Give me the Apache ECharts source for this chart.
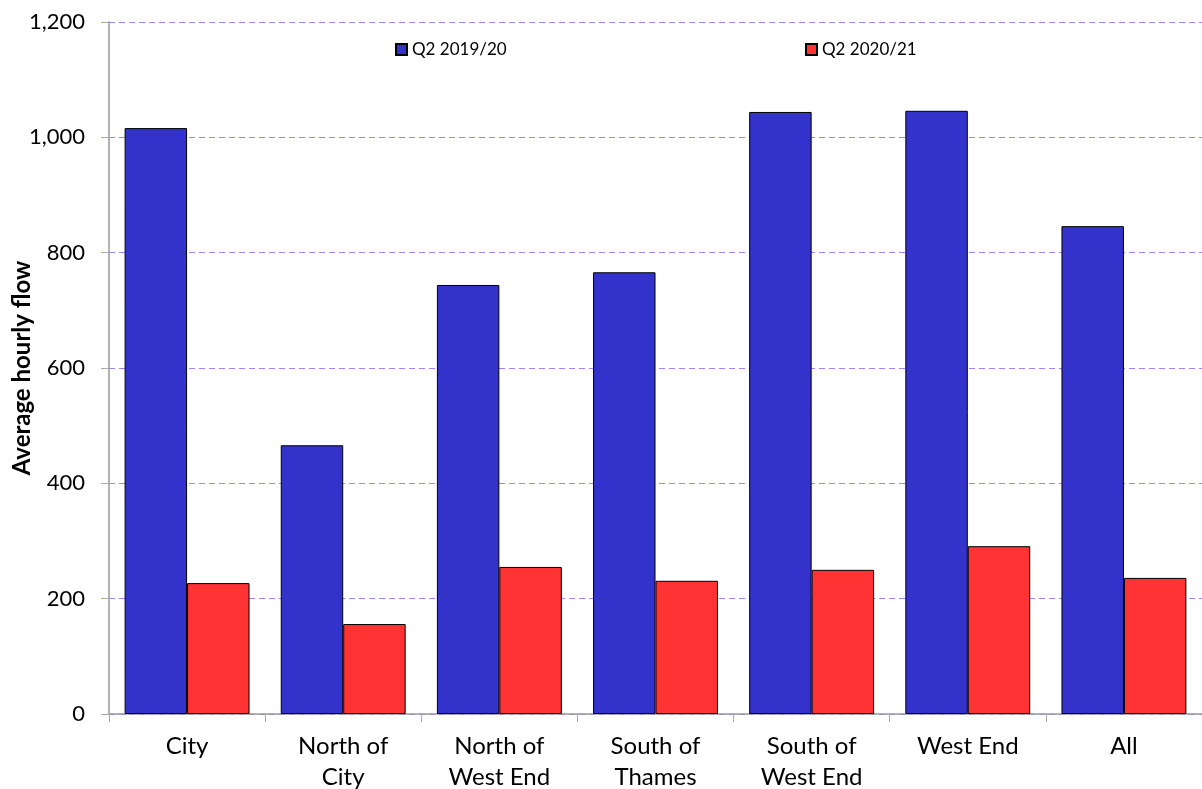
<!DOCTYPE html>
<html><head><meta charset="utf-8">
<script src="https://cdn.jsdelivr.net/npm/echarts@6/dist/echarts.min.js"></script>
<style>html,body{margin:0;padding:0;background:#fff;overflow:hidden}#c{width:1202px;height:789px}</style>
</head><body><div id="c"></div>
<script>
const categories = ['City', 'North of\nCity', 'North of\nWest End', 'South of\nThames', 'South of\nWest End', 'West End', 'All'];
const seriesNames = ['Q2 2019/20', 'Q2 2020/21'];
const q2_2019 = [1016, 466, 744, 766, 1044, 1046, 846];
const q2_2020 = [227, 156, 255, 231, 250, 291, 236];
const yTicks = [0, 200, 400, 600, 800, 1000, 1200];

const font = 'Lato, "Open Sans", sans-serif';
const chart = echarts.init(document.getElementById('c'));
chart.setOption({
  animation: false,
  backgroundColor: '#fff',
  grid: {left: 109, right: 0, top: 22, bottom: 75, containLabel: false, outerBoundsMode: 'none'},
  legend: [
    {data: [seriesNames[0]], icon: 'rect', left: 390, top: 36, itemWidth: 11, itemHeight: 11, itemGap: 4, textStyle: {fontFamily: font, fontSize: 17, color: '#000'}},
    {data: [seriesNames[1]], icon: 'rect', left: 800, top: 36, itemWidth: 11, itemHeight: 11, itemGap: 4, textStyle: {fontFamily: font, fontSize: 17, color: '#000'}}
  ],
  xAxis: {
    type: 'category', data: categories,
    axisLine: {lineStyle: {color: '#999', width: 1.5}},
    axisTick: {show: true, length: 8, lineStyle: {color: '#aaa'}},
    axisLabel: {fontFamily: font, fontSize: 24, color: '#000', margin: 17, lineHeight: 31}
  },
  yAxis: {
    type: 'value', min: 0, max: 1200, interval: 200,
    name: 'Average hourly flow', nameLocation: 'middle', nameGap: 75, nameMoveOverlap: false,
    nameTextStyle: {fontFamily: font, fontSize: 24, fontWeight: 'bold', color: '#000'},
    axisLine: {show: true, lineStyle: {color: '#999', width: 1.5}},
    axisTick: {show: true, length: 8, lineStyle: {color: '#aaa'}},
    axisLabel: {fontFamily: font, fontSize: 22, color: '#000', margin: 24,
      formatter: v => yTicks.includes(v) ? v.toLocaleString('en-GB') : ''},
    splitLine: {show: true, lineStyle: {color: ['#a680ff'], type: [6, 4], width: 1}}
  },
  series: [
    {name: seriesNames[0], type: 'bar', data: q2_2019, barGap: '0%', barCategoryGap: '20%',
      itemStyle: {color: '#3333cc', borderColor: '#000', borderWidth: 1}},
    {name: seriesNames[1], type: 'bar', data: q2_2020,
      itemStyle: {color: '#ff3333', borderColor: '#000', borderWidth: 1}}
  ]
});
</script></body></html>
